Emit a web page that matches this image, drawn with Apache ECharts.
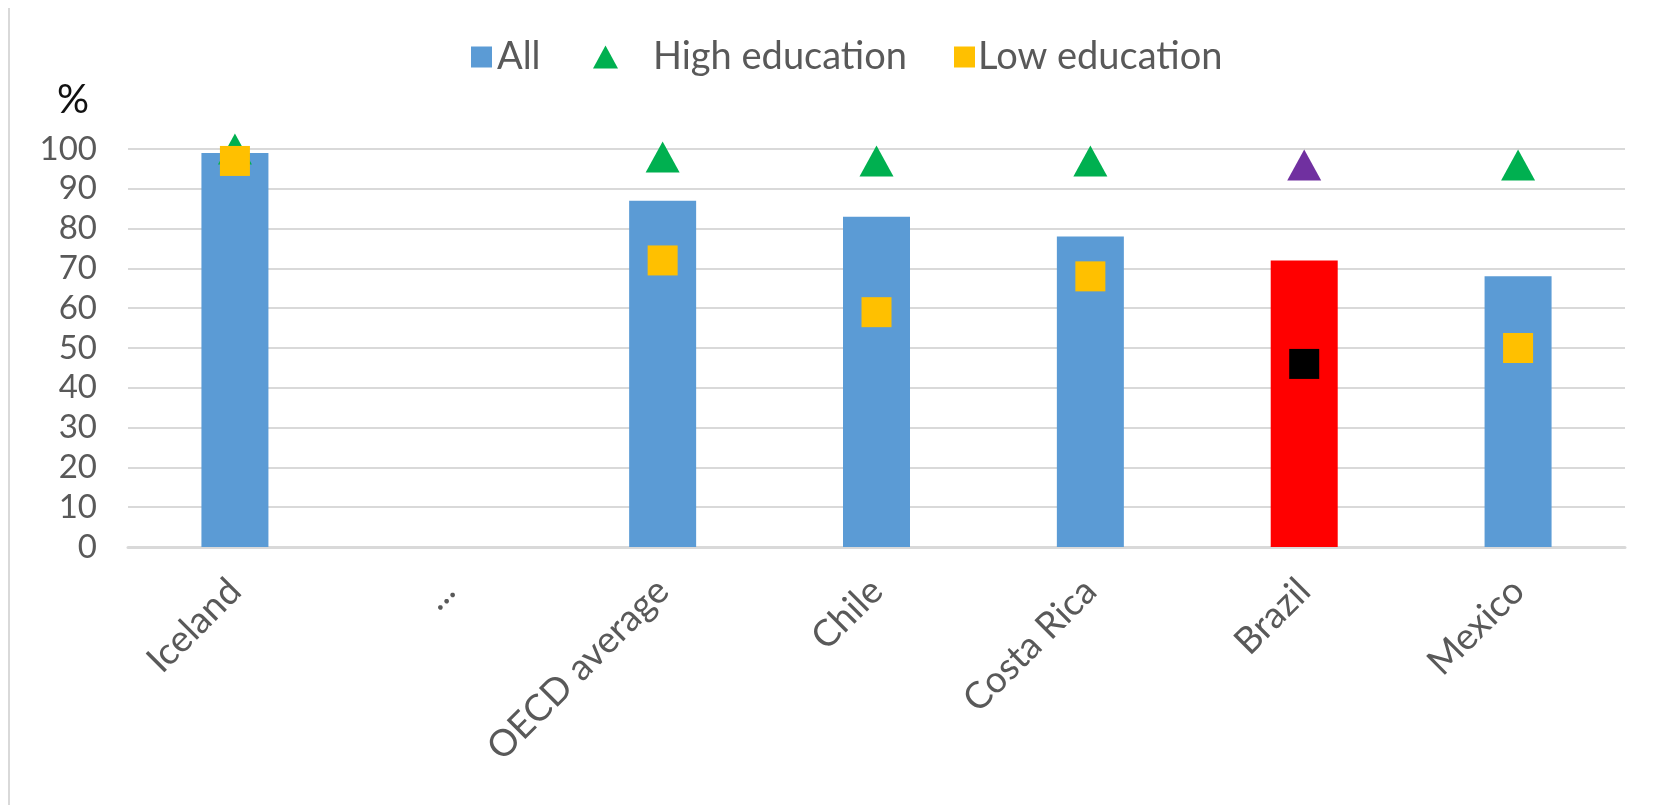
<!DOCTYPE html>
<html>
<head>
<meta charset="utf-8">
<script src="https://cdn.jsdelivr.net/npm/echarts@6/dist/echarts.min.js"></script>
<style>html,body{margin:0;padding:0;background:#fff}#c{width:1669px;height:805px}</style>
</head>
<body>
<div id="c"></div>
<script>
const categories = ['Iceland', '...', 'OECD average', 'Chile', 'Costa Rica', 'Brazil', 'Mexico'];
const allValues = [99, null, 87, 83, 78, 72, 68];
const highEducation = [100, null, 98, 97, 97, 96, 96];
const lowEducation = [97, null, 72, 59, 68, 46, 50];
const yTicks = { min: 0, max: 100, interval: 10 };
const highlightCategory = 'Brazil';

const FONT = 'Lato';
const GREY = '#595959';
const isHi = (p) => categories[p.dataIndex] === highlightCategory;

const chart = echarts.init(document.getElementById('c'), null, { renderer: 'canvas' });
chart.setOption({
  animation: false,
  textStyle: { fontFamily: FONT },
  grid: { left: 128, right: 44, top: 149, bottom: 258 },
  legend: [
    { data: [{ name: 'All', icon: 'rect' }], left: 466, top: 33, itemWidth: 21, itemHeight: 21,
      textStyle: { fontSize: 38, color: GREY, fontFamily: FONT, padding: [0, 0, 0, 0] } },
    { data: [{ name: 'High education', icon: 'triangle' }], left: 588, top: 33, itemWidth: 25, itemHeight: 23,
      textStyle: { fontSize: 38, color: GREY, fontFamily: FONT, padding: [0, 0, 0, 30] } },
    { data: [{ name: 'Low education', icon: 'rect' }], left: 949, top: 33, itemWidth: 21, itemHeight: 21,
      textStyle: { fontSize: 38, color: GREY, fontFamily: FONT, padding: [0, 0, 0, -2] } }
  ],
  graphic: [
    { type: 'line', shape: { x1: 9, y1: 8, x2: 9, y2: 805 }, style: { stroke: '#d9d9d9', lineWidth: 2 } },
    { type: 'text', left: 57, top: 80, style: { text: '%', fontSize: 40, fill: '#111', fontFamily: FONT } }
  ],
  xAxis: {
    type: 'category', data: categories,
    axisLine: { lineStyle: { color: '#d9d9d9', width: 3 } },
    axisTick: { show: false },
    axisLabel: { rotate: 45, fontSize: 37, color: GREY, margin: 38, interval: 0, fontFamily: FONT }
  },
  yAxis: {
    type: 'value', min: yTicks.min, max: yTicks.max, interval: yTicks.interval,
    axisLine: { show: false }, axisTick: { show: false },
    axisLabel: { fontSize: 33, color: GREY, margin: 31, fontFamily: FONT },
    splitLine: { lineStyle: { color: '#d9d9d9', width: 2 } }
  },
  series: [
    { name: 'All', type: 'bar', data: allValues, barWidth: 67,
      itemStyle: { color: (p) => isHi(p) ? '#FF0000' : '#5B9BD5' } },
    { name: 'High education', type: 'scatter', data: highEducation, symbol: 'triangle', symbolSize: [34, 31],
      itemStyle: { color: (p) => isHi(p) ? '#7030A0' : '#00B050', opacity: 1 } },
    { name: 'Low education', type: 'scatter', data: lowEducation, symbol: 'rect', symbolSize: 30,
      itemStyle: { color: (p) => isHi(p) ? '#000000' : '#FFC000', opacity: 1 } }
  ],
  color: ['#5B9BD5', '#00B050', '#FFC000']
});
</script>
</body>
</html>
